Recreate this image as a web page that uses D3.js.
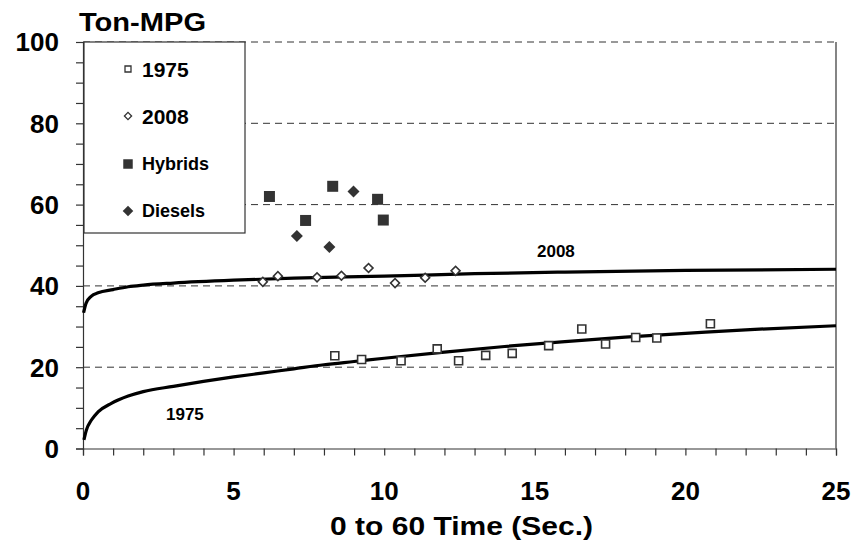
<!DOCTYPE html>
<html><head><meta charset="utf-8">
<script src="https://cdn.jsdelivr.net/npm/d3@7"></script>
<style>body{margin:0;background:#fff}svg{display:block}text{font-family:"Liberation Sans",Arial,sans-serif;font-weight:bold;fill:#000}</style>
</head><body><svg id="c" width="856" height="555"></svg>
<script>
// data
const xTicks=[0,5,10,15,20,25];
const yTicks=[0,20,40,60,80,100];
const gridValues=[20,40,60,80,100];
const s1975x=[8.36,9.25,10.56,11.76,12.47,13.37,14.25,15.46,16.56,17.35,18.35,19.05,20.83];
const s1975y=[22.8,21.9,21.6,24.5,21.6,22.9,23.4,25.3,29.4,25.7,27.3,27.2,30.7];
const s2008x=[5.97,6.47,7.77,8.58,9.48,10.36,11.36,12.37];
const s2008y=[41.0,42.4,42.1,42.5,44.4,40.7,42.0,43.7];
const hybX=[6.19,7.39,8.29,9.78,9.97];
const hybY=[62.0,56.1,64.5,61.3,56.2];
const dieX=[7.10,8.18,8.98];
const dieY=[52.3,49.6,63.2];
const trend1975x=[0.03,0.11,0.28,0.5,0.94,1.5,2,3,4,5,6,7,8,9,10,12,14,16,18,20,22,25];
const trend1975y=[2.1,4.5,7.0,9.0,11.1,12.9,14.0,15.3,16.5,17.6,18.6,19.6,20.6,21.4,22.2,23.7,25.1,26.3,27.4,28.3,29.2,30.2];
const trend2008x=[0.02,0.1,0.28,0.5,1,1.5,2,3,5,7,10,13,16,20,25];
const trend2008y=[33.4,35.7,37.5,38.3,39.1,39.8,40.2,40.7,41.4,41.9,42.4,43.0,43.4,43.8,44.1];
const legendLabels=["1975","2008","Hybrids","Diesels"];

const svg=d3.select("#c");
const L=83,R=836,T=42,B=448.5;
const x=d3.scaleLinear().domain([0,25]).range([L,R]);
const y=d3.scaleLinear().domain([0,100]).range([B,T]);

// gridlines
svg.append("g").selectAll("line").data(gridValues).join("line")
 .attr("x1",L).attr("x2",R).attr("y1",d=>y(d)).attr("y2",d=>y(d))
 .attr("stroke","#333").attr("stroke-width",1).attr("stroke-dasharray","7,5");

// right border
svg.append("line").attr("x1",R).attr("x2",R).attr("y1",T).attr("y2",B).attr("stroke","#333").attr("stroke-width",1.2);

// axes
const xAxis=d3.axisBottom(x).tickValues(d3.range(0,26,1)).tickSize(7).tickFormat("");
const gx=svg.append("g").attr("transform",`translate(0,${B})`).call(xAxis);
const yAxis=d3.axisLeft(y).tickValues(d3.range(0,101,5)).tickSize(7).tickFormat("");
const gy=svg.append("g").attr("transform",`translate(${L},0)`).call(yAxis);
[gx,gy].forEach(g=>{g.select(".domain").attr("stroke","#333").attr("stroke-width",1.2);g.selectAll(".tick line").attr("stroke","#333").attr("stroke-width",1.2);});

svg.append("g").selectAll("text").data(xTicks).join("text")
 .attr("x",d=>x(d)).attr("y",500).attr("text-anchor","middle").attr("font-size",26).text(d=>d);
svg.append("g").selectAll("text").data(yTicks).join("text")
 .attr("x",59).attr("y",d=>y(d)).attr("dy","0.36em").attr("text-anchor","end").attr("font-size",26).text(d=>d);

svg.append("text").attr("x",330).attr("y",535).attr("font-size",25)
 .attr("textLength",263).attr("lengthAdjust","spacingAndGlyphs").text("0 to 60 Time (Sec.)");
svg.append("text").attr("x",79).attr("y",31).attr("font-size",25)
 .attr("textLength",127).attr("lengthAdjust","spacingAndGlyphs").text("Ton-MPG");

// trend curves
const line=d3.line().x(d=>x(d[0])).y(d=>y(d[1])).curve(d3.curveMonotoneX);
svg.append("path").attr("d",line(d3.zip(trend1975x,trend1975y))).attr("fill","none").attr("stroke","#000").attr("stroke-width",3.2);
svg.append("path").attr("d",line(d3.zip(trend2008x,trend2008y))).attr("fill","none").attr("stroke","#000").attr("stroke-width",3.2);
svg.append("text").attr("x",537).attr("y",257).attr("font-size",17).text("2008");
svg.append("text").attr("x",166).attr("y",420).attr("font-size",17).text("1975");

// markers
function pts(xs,ys,size,rot,fill,stroke){
 svg.append("g").selectAll("path").data(d3.zip(xs,ys)).join("path")
  .attr("transform",d=>`translate(${x(d[0])},${y(d[1])}) rotate(${rot})`)
  .attr("d",d3.symbol().type(d3.symbolSquare).size(size)()).attr("fill",fill).attr("stroke",stroke).attr("stroke-width",1.6);
}
pts(s1975x,s1975y,64,0,"#fff","#333");
pts(s2008x,s2008y,40,45,"#fff","#333");
pts(hybX,hybY,121,0,"#333","none");
pts(dieX,dieY,72,45,"#333","none");

// legend
const lg=svg.append("g");
lg.append("rect").attr("x",84).attr("y",T).attr("width",161).attr("height",191).attr("fill","#fff").attr("stroke","#333").attr("stroke-width",1.2);
const legY=[69,116,164,211];
const legSym=[[36,0,"#fff","#333"],[26,45,"#fff","#333"],[90,0,"#333","none"],[56,45,"#333","none"]];
legendLabels.forEach((t,i)=>{
 const s=legSym[i];
 lg.append("path").attr("transform",`translate(128,${legY[i]}) rotate(${s[1]})`)
  .attr("d",d3.symbol().type(d3.symbolSquare).size(s[0])())
  .attr("fill",s[2]).attr("stroke",s[3]).attr("stroke-width",1.3);
 lg.append("text").attr("x",142).attr("y",legY[i]).attr("dy","0.36em").attr("font-size",i<2?21:18).text(t);
});
</script></body></html>
